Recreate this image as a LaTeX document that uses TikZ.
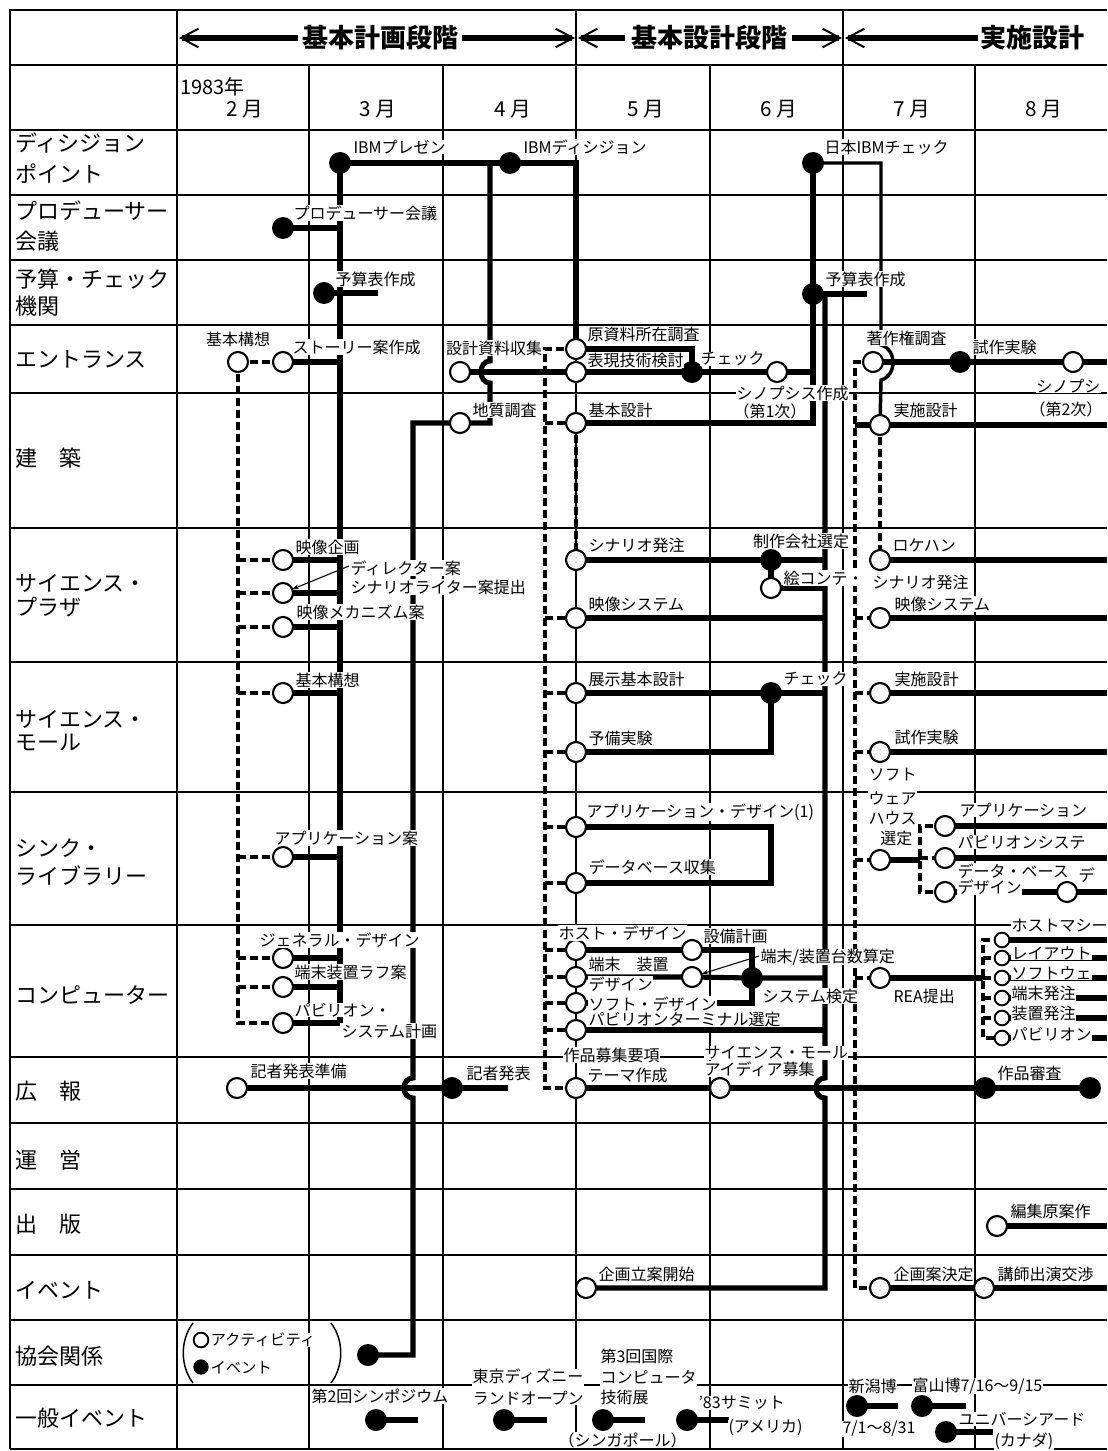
\documentclass[tikz,border=0pt]{standalone}
\usepackage{fontspec}
\setmainfont{Noto Sans CJK JP}
\usetikzlibrary{arrows.meta}
\begin{document}
\begin{tikzpicture}[x=0.75pt,y=-0.75pt,
  gridl/.style={line width=1.2pt},
  framel/.style={line width=1.9pt},
  thk/.style={line width=3.8pt},
  med/.style={line width=2.6pt},
  dsh/.style={line width=3.5pt,dash pattern=on 6pt off 3pt},
  fine/.style={line width=0.8pt},
  oc/.style={circle,draw,fill=white,line width=1.6pt,minimum size=15pt,inner sep=0pt},
  ocs/.style={oc,minimum size=11pt,line width=1.4pt},
  fc/.style={circle,fill=black,minimum size=16.5pt,inner sep=0pt},
  fcs/.style={fc,minimum size=11.5pt},
  lab/.style={font=\fontsize{12}{15.5}\selectfont,inner sep=0.2pt,fill=white,anchor=west},
  labc/.style={lab,anchor=center},
  labe/.style={lab,anchor=east},
  rowl/.style={font=\fontsize{16.5}{18}\selectfont,anchor=west,inner sep=0pt},
  mon/.style={font=\fontsize{15.5}{17}\selectfont,inner sep=0pt},
  hd/.style={font=\fontsize{19.5}{21}\selectfont\bfseries,inner sep=0pt}
]
\fill[white] (0,0) rectangle (1107,1451);
\useasboundingbox (0,0) rectangle (1107,1451);

% ---------------- grid ----------------
\foreach \y in {65,130,195,260,325,393,528,662,792,925,1057,1123,1189,1255,1320,1385,1449}
  \draw[gridl] (10,\y) -- (1107,\y);
\draw[framel] (1107,10) -- (10,10) -- (10,1449);
\foreach \x in {177,576,843} \draw[gridl] (\x,10) -- (\x,1449);
\foreach \x in {309,443,710,975} \draw[gridl] (\x,65) -- (\x,1449);

% ---------------- header arrows ----------------
\coordinate (h1a) at (179,38); \coordinate (h1b) at (298,38);
\coordinate (h1c) at (462,38); \coordinate (h1d) at (575,38);
\coordinate (h2a) at (578,38); \coordinate (h2b) at (625,38);
\coordinate (h2c) at (792,38); \coordinate (h2d) at (842,38);
\coordinate (h3a) at (845,38); \coordinate (h3b) at (978,38);
\draw[thk,{Straight Barb[length=13pt,width=14pt,line width=1.5pt]}-] (h1a) -- (h1b);
\draw[thk,-{Straight Barb[length=13pt,width=14pt,line width=1.5pt]}] (h1c) -- (h1d);
\draw[thk,{Straight Barb[length=13pt,width=14pt,line width=1.5pt]}-] (h2a) -- (h2b);
\draw[thk,-{Straight Barb[length=13pt,width=14pt,line width=1.5pt]}] (h2c) -- (h2d);
\draw[thk,{Straight Barb[length=13pt,width=14pt,line width=1.5pt]}-] (h3a) -- (h3b);
\node[hd] (hdA) at (380,38) {基本計画段階};
\node[hd] (hdB) at (709,38) {基本設計段階};
\node[hd] (hdC) at (1032,38) {実施設計};

% ---------------- month row ----------------
\node[anchor=west,font=\fontsize{15}{17}\selectfont,inner sep=0pt] (yr) at (180,87) {1983年};
\node[mon] (m2) at (245,109) {2 月};
\node[mon] (m3) at (378,109) {3 月};
\node[mon] (m4) at (513,109) {4 月};
\node[mon] (m5) at (646,109) {5 月};
\node[mon] (m6) at (779,109) {6 月};
\node[mon] (m7) at (912,109) {7 月};
\node[mon] (m8) at (1044,109) {8 月};

% ---------------- row labels ----------------
\node[rowl] (r1a) at (15,143) {ディシジョン};
\node[rowl] (r1b) at (15,174) {ポイント};
\node[rowl] (r2a) at (15,211) {プロデューサー};
\node[rowl] (r2b) at (15,241) {会議};
\node[rowl] (r3a) at (15,279) {予算・チェック};
\node[rowl] (r3b) at (15,306) {機関};
\node[rowl] (r4) at (15,359) {エントランス};
\node[rowl] (r5) at (15,458) {建　築};
\node[rowl] (r6a) at (15,583) {サイエンス・};
\node[rowl] (r6b) at (15,607) {プラザ};
\node[rowl] (r7a) at (15,719) {サイエンス・};
\node[rowl] (r7b) at (15,743) {モール};
\node[rowl] (r8a) at (15,848) {シンク・};
\node[rowl] (r8b) at (15,876) {ライブラリー};
\node[rowl] (r9) at (15,995) {コンピューター};
\node[rowl] (r10) at (15,1091) {広　報};
\node[rowl] (r11) at (15,1160) {運　営};
\node[rowl] (r12) at (15,1224) {出　版};
\node[rowl] (r13) at (15,1290) {イベント};
\node[rowl] (r14) at (15,1356) {協会関係};
\node[rowl] (r15) at (15,1418) {一般イベント};

% ---------------- coordinates ----------------
\coordinate (vR) at (1107,10);
\coordinate (ibmP) at (340,163);
\coordinate (ibmD) at (510,163);
\coordinate (nibm) at (813,163);
\coordinate (prod) at (283,228);
\coordinate (yos1) at (324,293);
\coordinate (yosE) at (378,293);
\coordinate (yos2) at (813,294);
\coordinate (yosE2) at (867,294);
\coordinate (kihon1) at (238,362);
\coordinate (story) at (283,362);
\coordinate (sekkei) at (460,372);
\coordinate (gen) at (576,349);
\coordinate (hyo) at (576,372);
\coordinate (chkF) at (692,372);
\coordinate (chkO) at (777,372);
\coordinate (chosaku) at (873,362);
\coordinate (shisaku) at (960,362);
\coordinate (syno2) at (1073,362);
\coordinate (chishitsu) at (460,423);
\coordinate (kihonS) at (576,423);
\coordinate (jissi1) at (880,425);
\coordinate (eizo1) at (283,560);
\coordinate (dir) at (283,593);
\coordinate (mecha) at (283,627);
\coordinate (scen) at (576,560);
\coordinate (seisaku) at (771,560);
\coordinate (ekonte) at (771,588);
\coordinate (eizoS) at (576,618);
\coordinate (loke) at (880,560);
\coordinate (eizoS2) at (880,618);
\coordinate (kihon2) at (283,693);
\coordinate (tenji) at (576,693);
\coordinate (chk2) at (771,693);
\coordinate (yobi) at (576,752);
\coordinate (jissi2) at (880,693);
\coordinate (shisaku2) at (880,752);
\coordinate (appA) at (283,857);
\coordinate (appD) at (576,827);
\coordinate (db) at (576,883);
\coordinate (soft) at (880,860);
\coordinate (appC) at (945,826);
\coordinate (pav) at (945,858);
\coordinate (dbd) at (945,892);
\coordinate (dbE) at (1067,892);
\coordinate (gen1) at (283,958);
\coordinate (tan1) at (283,987);
\coordinate (pav1) at (283,1023);
\coordinate (host) at (576,950);
\coordinate (setsubi) at (692,950);
\coordinate (tanS) at (576,977);
\coordinate (tanS2) at (692,977);
\coordinate (soft2) at (576,1003);
\coordinate (pavT) at (576,1030);
\coordinate (sysK) at (752,978);
\coordinate (rea) at (880,978);
\coordinate (c1) at (1002,940);
\coordinate (c2) at (1002,958);
\coordinate (c3) at (1002,978);
\coordinate (c4) at (1002,998);
\coordinate (c5) at (1002,1018);
\coordinate (c6) at (1002,1038);
\coordinate (kisha0) at (237,1088);
\coordinate (kisha) at (452,1088);
\coordinate (kishaE) at (508,1088);
\coordinate (sakuhin) at (576,1088);
\coordinate (sciM) at (720,1088);
\coordinate (shinsa1) at (985,1088);
\coordinate (shinsa2) at (1090,1088);
\coordinate (hen) at (997,1226);
\coordinate (kikakuR) at (586,1288);
\coordinate (kikakuK) at (880,1288);
\coordinate (kousi) at (984,1288);
\coordinate (kyokai) at (368,1355);
\coordinate (legO) at (201,1340);
\coordinate (legF) at (201,1367);
\coordinate (symp) at (376,1420);   \coordinate (sympE) at (418,1420);
\coordinate (tdl) at (504,1420);    \coordinate (tdlE) at (547,1420);
\coordinate (comp) at (603,1420);   \coordinate (compE) at (645,1420);
\coordinate (summit) at (687,1420); \coordinate (summitE) at (729,1420);
\coordinate (niig) at (857,1406);   \coordinate (niigE) at (898,1406);
\coordinate (toya) at (922,1406);   \coordinate (toyaE) at (966,1406);
\coordinate (univ) at (946,1432);   \coordinate (univE) at (993,1432);
% vertical references
\coordinate (vB) at (490,163);
\coordinate (vC) at (413,423);
\coordinate (vD) at (545,349);
\coordinate (vE) at (825,294);
\coordinate (vF) at (855,362);
\coordinate (vN) at (881,163);
\coordinate (vJ) at (920,826);
\coordinate (vK) at (983,940);
\coordinate (dirArr) at (349,566);
\coordinate (tanArr) at (759,956);

% ---------------- solid connectors ----------------
\draw[thk] (ibmP) -- (ibmD) -- (ibmD -| gen) -- (gen);
\draw[thk] (ibmP) -- (pav1 -| ibmP);
\draw[thk] (prod) -- (prod -| ibmP);
\draw[thk] (yos1) -- (yosE);
\foreach \c in {story,eizo1,dir,mecha,kihon2,appA,gen1,tan1,pav1}
  \draw[thk] (\c) -- (\c -| ibmP);
\draw[thk] (vB) -- (490,361) .. controls (478,361) and (478,383) .. (490,383) -- (chishitsu -| vB) -- (chishitsu);
\draw[thk] (chishitsu) -- (vC) -- (413,1078) .. controls (401,1078) and (401,1098) .. (413,1098) -- (kyokai -| vC) -- (kyokai);
\draw[thk] (sekkei) -- (hyo) -- (chkF) -- (chkO) -- (chkO -| nibm);
\draw[thk] (gen) -- (gen -| chkF) -- (chkF);
\draw[thk] (nibm) -- (kihonS -| nibm) -- (kihonS);
\draw[med] (nibm) -- (vN) -- (881,345) .. controls (897,349) and (897,376) .. (881,380) -- (jissi1);
\draw[thk] (chosaku) -- (shisaku) -- (syno2) -- (syno2 -| vR);
\draw[thk] (yos2) -- (yosE2);
\draw[thk] (vE) -- (825,1078) .. controls (813,1078) and (813,1098) .. (825,1098) -- (kikakuR -| vE) -- (kikakuR);
\draw[thk] (jissi1 -| vF) -- (jissi1) -- (jissi1 -| vR);
\draw[thk] (scen) -- (seisaku) -- (seisaku -| vE);
\draw[thk] (seisaku) -- (ekonte) -- (ekonte -| vE);
\draw[thk] (eizoS) -- (eizoS -| vE);
\draw[thk] (loke) -- (loke -| vR);
\draw[thk] (eizoS2) -- (eizoS2 -| vR);
\draw[thk] (tenji) -- (chk2) -- (chk2 -| vE);
\draw[thk] (yobi) -- (yobi -| chk2) -- (chk2);
\draw[thk] (jissi2) -- (jissi2 -| vR);
\draw[thk] (shisaku2) -- (shisaku2 -| vR);
\draw[thk] (appD) -- (appD -| chk2) -- (db -| chk2) -- (db);
\draw[thk] (soft) -- (soft -| vJ);
\draw[thk] (appC) -- (appC -| vR);
\draw[thk] (pav) -- (pav -| vR);
\draw[thk] (dbd) -- (dbE) -- (dbE -| vR);
\draw[thk] (host) -- (setsubi) -- (setsubi -| sysK) -- (sysK);
\draw[thk] (tanS) -- (tanS2) -- (sysK) -- (sysK -| vE);
\draw[thk] (soft2) -- (soft2 -| sysK) -- (sysK);
\draw[thk] (pavT) -- (pavT -| vE);
\draw[thk] (rea) -- (rea -| vK);
\foreach \c in {c1,c2,c3,c4,c5,c6} \draw[thk] (\c) -- (\c -| vR);
\draw[thk] (kisha0) -- (kisha) -- (kishaE);
\draw[thk] (sakuhin) -- (sciM) -- (shinsa1) -- (shinsa2);
\draw[thk] (hen) -- (hen -| vR);
\draw[thk] (kikakuK) -- (kousi) -- (kousi -| vR);
\draw[thk] (symp) -- (sympE);
\draw[thk] (tdl) -- (tdlE);
\draw[thk] (comp) -- (compE);
\draw[thk] (summit) -- (summitE);
\draw[thk] (niig) -- (niigE);
\draw[thk] (toya) -- (toyaE);
\draw[thk] (univ) -- (univE);

% ---------------- dashed connectors ----------------
\draw[dsh] (kihon1) -- (story);
\draw[dsh] (kihon1) -- (pav1 -| kihon1) -- (pav1);
\foreach \c in {eizo1,dir,mecha,kihon2,appA,gen1,tan1}
  \draw[dsh] (\c -| kihon1) -- (\c);
\draw[dsh] (gen) -- (vD) -- (sakuhin -| vD) -- (sakuhin);
\foreach \c in {kihonS,eizoS,tenji,yobi,appD,db,host,tanS,soft2,pavT}
  \draw[dsh] (\c -| vD) -- (\c);
\draw[dsh] (kihonS) -- (scen);
\draw[dsh] (chosaku) -- (vF) -- (kikakuK -| vF) -- (kikakuK);
\foreach \c in {eizoS2,jissi2,shisaku2,soft,rea}
  \draw[dsh] (\c -| vF) -- (\c);
\draw[dsh] (jissi1) -- (loke);
\draw[dsh] (appC) -- (vJ) -- (dbd -| vJ) -- (dbd);
\draw[dsh] (pav -| vJ) -- (pav);
\draw[dsh] (c1) -- (vK) -- (c6 -| vK) -- (c6);
\foreach \c in {c2,c3,c4,c5} \draw[dsh] (\c -| vK) -- (\c);

% ---------------- thin pointers ----------------
\draw[fine,-{Stealth[length=5pt,width=3.5pt]},shorten >=7.5pt] (dirArr) -- (dir);
\draw[fine,-{Stealth[length=5pt,width=3.5pt]},shorten >=7.5pt] (tanArr) -- (tanS2);
% legend brackets
\draw[line width=1.1pt] (193,1323) .. controls (180,1340) and (180,1366) .. (193,1383);
\draw[line width=1.1pt] (331,1323) .. controls (344,1340) and (344,1366) .. (331,1383);

% ---------------- circles ----------------
\foreach \c in {kihon1,story,sekkei,gen,hyo,chkO,chosaku,syno2,chishitsu,kihonS,jissi1,
  eizo1,dir,mecha,scen,ekonte,eizoS,loke,eizoS2,kihon2,tenji,yobi,jissi2,shisaku2,
  appA,appD,db,soft,appC,pav,dbd,dbE,gen1,tan1,pav1,host,setsubi,tanS,tanS2,soft2,pavT,
  rea,kisha0,sakuhin,sciM,hen,kikakuR,kikakuK,kousi}
  \node[oc] (\c-n) at (\c) {};
\foreach \c in {c1,c2,c3,c4,c5,c6,legO} \node[ocs] (\c-n) at (\c) {};
\foreach \c in {ibmP,ibmD,nibm,prod,yos1,yos2,chkF,shisaku,seisaku,chk2,sysK,kisha,
  shinsa1,shinsa2,kyokai,symp,tdl,comp,summit,niig,toya,univ}
  \node[fc] (\c-n) at (\c) {};
\node[fcs] (legF-n) at (legF) {};

% ---------------- labels ----------------
\node[lab] (t1) at (353,147) {IBMプレゼン};
\node[lab] (t2) at (523,147) {IBMディシジョン};
\node[lab] (t3) at (824,147) {日本IBMチェック};
\node[lab] (t4) at (293,213) {プロデューサー会議};
\node[lab] (t5) at (335,279) {予算表作成};
\node[lab] (t6) at (825,279) {予算表作成};
\node[labc] (t7) at (238,339) {基本構想};
\node[lab] (t8) at (292,347) {ストーリー案作成};
\node[labc] (t9) at (494,348) {設計資料収集};
\node[lab] (t10) at (587,334) {原資料所在調査};
\node[lab] (t11) at (587,360.5) {表現技術検討};
\node[lab] (t12) at (700,359) {チェック};
\node[lab] (t13) at (866,338) {著作権調査};
\node[lab] (t14) at (972,347) {試作実験};
\node[labe] (t15) at (1101,386) {シノプシ};
\node[labe] (t16) at (1103,409) {（第2次）};
\node[lab] (t17) at (736,393) {シノプシス作成};
\node[lab] (t18) at (733,411) {（第1次）};
\node[lab] (t19) at (472,410) {地質調査};
\node[lab] (t20) at (588,410) {基本設計};
\node[lab] (t21) at (893,410) {実施設計};
\node[lab] (t22) at (295,547) {映像企画};
\node[lab] (t23) at (350,568) {ディレクター案};
\node[lab] (t24) at (350,587) {シナリオライター案提出};
\node[lab] (t25) at (296,612) {映像メカニズム案};
\node[lab] (t26) at (588,545) {シナリオ発注};
\node[labc] (t27) at (801,541) {制作会社選定};
\node[lab] (t28) at (783,578) {絵コンテ・};
\node[lab] (t29) at (872,582) {シナリオ発注};
\node[lab] (t30) at (892,545) {ロケハン};
\node[lab] (t31) at (588,604) {映像システム};
\node[lab] (t32) at (894,604) {映像システム};
\node[lab] (t33) at (295,680) {基本構想};
\node[lab] (t34) at (588,679) {展示基本設計};
\node[lab] (t35) at (783,679) {チェック};
\node[lab] (t36) at (894,679) {実施設計};
\node[lab] (t37) at (588,738) {予備実験};
\node[lab] (t38) at (894,737) {試作実験};
\node[lab] (t39) at (274,838) {アプリケーション案};
\node[lab] (t40) at (586,812) {アプリケーション・デザイン(1)};
\node[lab] (t41) at (588,867) {データベース収集};
\node[lab] (t42) at (868,775) {ソフト};
\node[lab] (t43) at (868,798) {ウェア};
\node[lab] (t44) at (868,818) {ハウス};
\node[labe] (t45) at (913,838) {選定};
\node[lab] (t46) at (959,810) {アプリケーション};
\node[lab] (t47) at (957,842) {パビリオンシステ};
\node[lab] (t48) at (957,871) {データ・ベース};
\node[lab] (t49) at (957,887) {デザイン};
\node[lab] (t50) at (1078,875) {デ};
\node[lab] (t51) at (259,940) {ジェネラル・デザイン};
\node[lab] (t52) at (294,972) {端末装置ラフ案};
\node[lab] (t53) at (294,1010) {パビリオン・};
\node[lab] (t54) at (341,1031) {システム計画};
\node[lab] (t55) at (558,933) {ホスト・デザイン};
\node[lab] (t56) at (703,936) {設備計画};
\node[lab] (t57) at (588,964) {端末　装置};
\node[lab] (t58) at (588,984) {デザイン};
\node[lab] (t59) at (588,1004) {ソフト・デザイン};
\node[lab] (t60) at (588,1019) {パビリオンターミナル選定};
\node[lab] (t61) at (760,957) {端末/装置台数算定};
\node[lab] (t62) at (762,996) {システム検定};
\node[lab] (t63) at (893,996) {REA提出};
\node[lab] (t64) at (1011,926) {ホストマシー};
\node[lab] (t65) at (1011,953) {レイアウト};
\node[lab] (t66) at (1011,973) {ソフトウェ};
\node[lab] (t67) at (1011,993) {端末発注};
\node[lab] (t68) at (1011,1013) {装置発注};
\node[lab] (t69) at (1011,1034) {パビリオン};
\node[lab] (t70) at (250,1071) {記者発表準備};
\node[lab] (t71) at (466,1073) {記者発表};
\node[lab] (t72) at (563,1055) {作品募集要項};
\node[lab] (t73) at (587,1075) {テーマ作成};
\node[lab] (t74) at (704,1053) {サイエンス・モール};
\node[lab] (t75) at (704,1069) {アイディア募集};
\node[lab] (t76) at (997,1073) {作品審査};
\node[lab] (t77) at (1010,1211) {編集原案作};
\node[lab] (t78) at (598,1274) {企画立案開始};
\node[lab] (t79) at (893,1274) {企画案決定};
\node[lab] (t80) at (997,1274) {講師出演交渉};
\node[lab,font=\fontsize{11.5}{13}\selectfont] (t81) at (210,1340) {アクティビティ};
\node[lab,font=\fontsize{11.5}{13}\selectfont] (t82) at (210,1368) {イベント};
\node[lab] (t83) at (311,1396) {第2回シンポジウム};
\node[lab,align=left,font=\fontsize{12}{15.8}\selectfont] (t84) at (472,1387) {東京ディズニー\\ランドオープン};
\node[lab,align=left,font=\fontsize{12}{15.4}\selectfont] (t85) at (600,1377) {第3回国際\\コンピュータ\\技術展};
\node[lab] (t86) at (558,1440) {（シンガポール）};
\node[lab] (t87) at (698,1403) {’83サミット};
\node[lab] (t88) at (728,1428) {(アメリカ)};
\node[lab] (t89) at (848,1386) {新潟博};
\node[lab] (t90) at (912,1386) {富山博7/16〜9/15};
\node[lab] (t91) at (842,1429) {7/1〜8/31};
\node[lab] (t92) at (958,1419) {ユニバーシアード};
\node[lab] (t93) at (994,1441) {(カナダ)};
\end{tikzpicture}
\end{document}
